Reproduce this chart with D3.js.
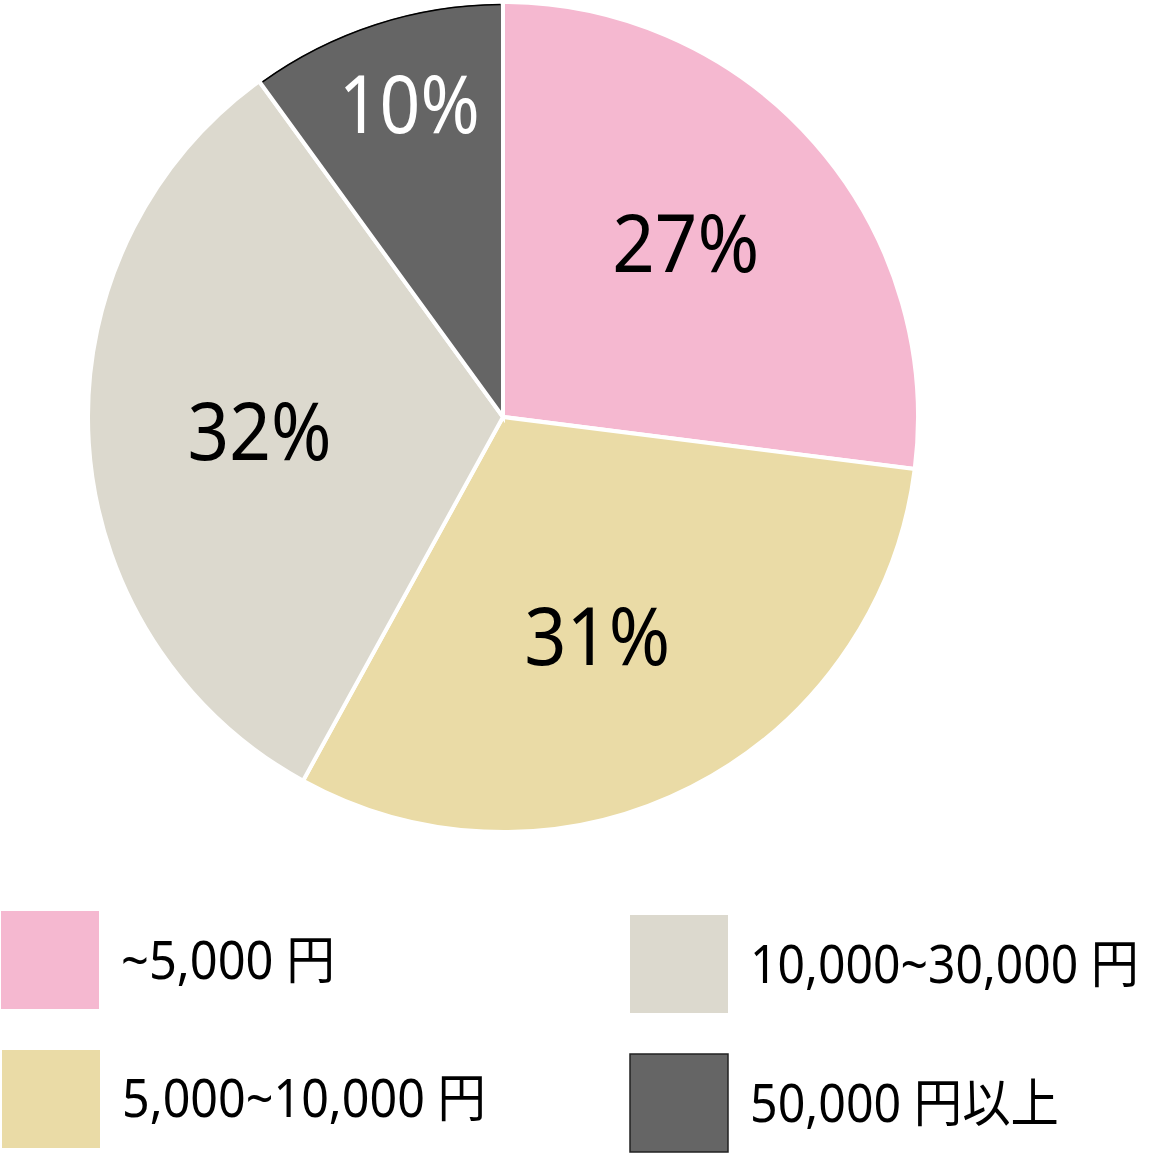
<!DOCTYPE html>
<html>
<head>
<meta charset="utf-8">
<script src="https://cdn.jsdelivr.net/npm/d3@7"></script>
<style>
  html, body { margin: 0; padding: 0; background: #ffffff; }
  svg { display: block; }
  text { font-family: "Noto Sans", "Noto Sans CJK JP", sans-serif; }
</style>
</head>
<body>
<svg id="chart" width="1166" height="1157"></svg>
<script>
// ---- data ----
const categories = ["~5,000 円", "5,000~10,000 円", "10,000~30,000 円", "50,000 円以上"];
const values = [27, 31, 32, 10];
const valueLabels = ["27%", "31%", "32%", "10%"];
const colors = ["#F5B8D0", "#EADBA6", "#DCD9CE", "#656565"];
const labelColors = ["#000000", "#000000", "#000000", "#ffffff"];

// ---- layout ----
const svg = d3.select("#chart");
const cx = 503, cy = 417, R = 415;

const pie = d3.pie().sort(null).value(d => d.value);
const data = categories.map((c, i) => ({ cat: c, value: values[i], color: colors[i], label: valueLabels[i], lc: labelColors[i] }));
const arcs = pie(data);

const arc = d3.arc().innerRadius(0).outerRadius(R);
const g = svg.append("g").attr("transform", `translate(${cx},${cy})`);

g.selectAll("path.slice")
  .data(arcs)
  .join("path")
  .attr("class", "slice")
  .attr("d", arc)
  .attr("fill", d => d.data.color)
  .attr("stroke", "#ffffff")
  .attr("stroke-width", 4)
  .attr("stroke-linejoin", "miter");

// thin dark rim on the darkest slice
const rim = d3.arc().innerRadius(R - 2.5).outerRadius(R - 2.5);
g.selectAll("path.rim")
  .data(arcs.filter(d => d.data.color === "#656565"))
  .join("path")
  .attr("class", "rim")
  .attr("d", d => rim({ startAngle: d.startAngle + 0.006, endAngle: d.endAngle - 0.006 }))
  .attr("fill", "none")
  .attr("stroke", "#000000")
  .attr("stroke-width", 1.6);

// helper: squeeze text horizontally to a target ink width
function fitWidth(sel, widthFn, anchorMiddle) {
  sel.each(function (d, i) {
    const t = d3.select(this);
    const box = this.getBBox();
    const sx = widthFn(d, i) / box.width;
    const x = +t.attr("data-x"), y = +t.attr("data-y");
    t.attr("transform", `translate(${x},${y}) scale(${sx},1)`);
  });
}

// value labels
const labelArcBig = d3.arc().innerRadius(245).outerRadius(245);
const labelArcSmall = d3.arc().innerRadius(326).outerRadius(326);
const labelNudge = [[-1, -11], [-17, 2], [1, 0], [7, -2]];
const labelWidths = [141, 140, 138, 135];
const vals = g.selectAll("text.val")
  .data(arcs)
  .join("text")
  .attr("class", "val")
  .attr("data-x", (d, i) => (d.data.value < 15 ? labelArcSmall : labelArcBig).centroid(d)[0] + labelNudge[i][0])
  .attr("data-y", (d, i) => (d.data.value < 15 ? labelArcSmall : labelArcBig).centroid(d)[1] + 28 + labelNudge[i][1])
  .attr("x", 0)
  .attr("y", 0)
  .attr("text-anchor", "middle")
  .attr("font-size", 80)
  .attr("fill", d => d.data.lc)
  .text(d => d.data.label);
fitWidth(vals, (d, i) => labelWidths[i] + 6, true);

// legend
const legendPos = [
  { x: 1, y: 911, tx: 121, ty: 979, w: 214 },
  { x: 2, y: 1050, tx: 122, ty: 1117, w: 364 },
  { x: 630, y: 915, tx: 750, ty: 983, w: 389 },
  { x: 630, y: 1054, tx: 750, ty: 1122, w: 309 }
];
const lg = svg.append("g");
lg.selectAll("rect")
  .data(data)
  .join("rect")
  .attr("x", (d, i) => legendPos[i].x)
  .attr("y", (d, i) => legendPos[i].y)
  .attr("width", 98)
  .attr("height", 98)
  .attr("fill", d => d.color)
  .attr("stroke", d => d.color === "#656565" ? "#222222" : "none")
  .attr("stroke-width", 1.5);

const legTexts = lg.selectAll("text")
  .data(data)
  .join("text")
  .attr("data-x", (d, i) => legendPos[i].tx)
  .attr("data-y", (d, i) => legendPos[i].ty)
  .attr("x", 0)
  .attr("y", 0)
  .attr("font-size", 52)
  .attr("fill", "#000000")
  .text(d => d.cat);
fitWidth(legTexts, (d, i) => legendPos[i].w, false);
</script>
</body>
</html>
